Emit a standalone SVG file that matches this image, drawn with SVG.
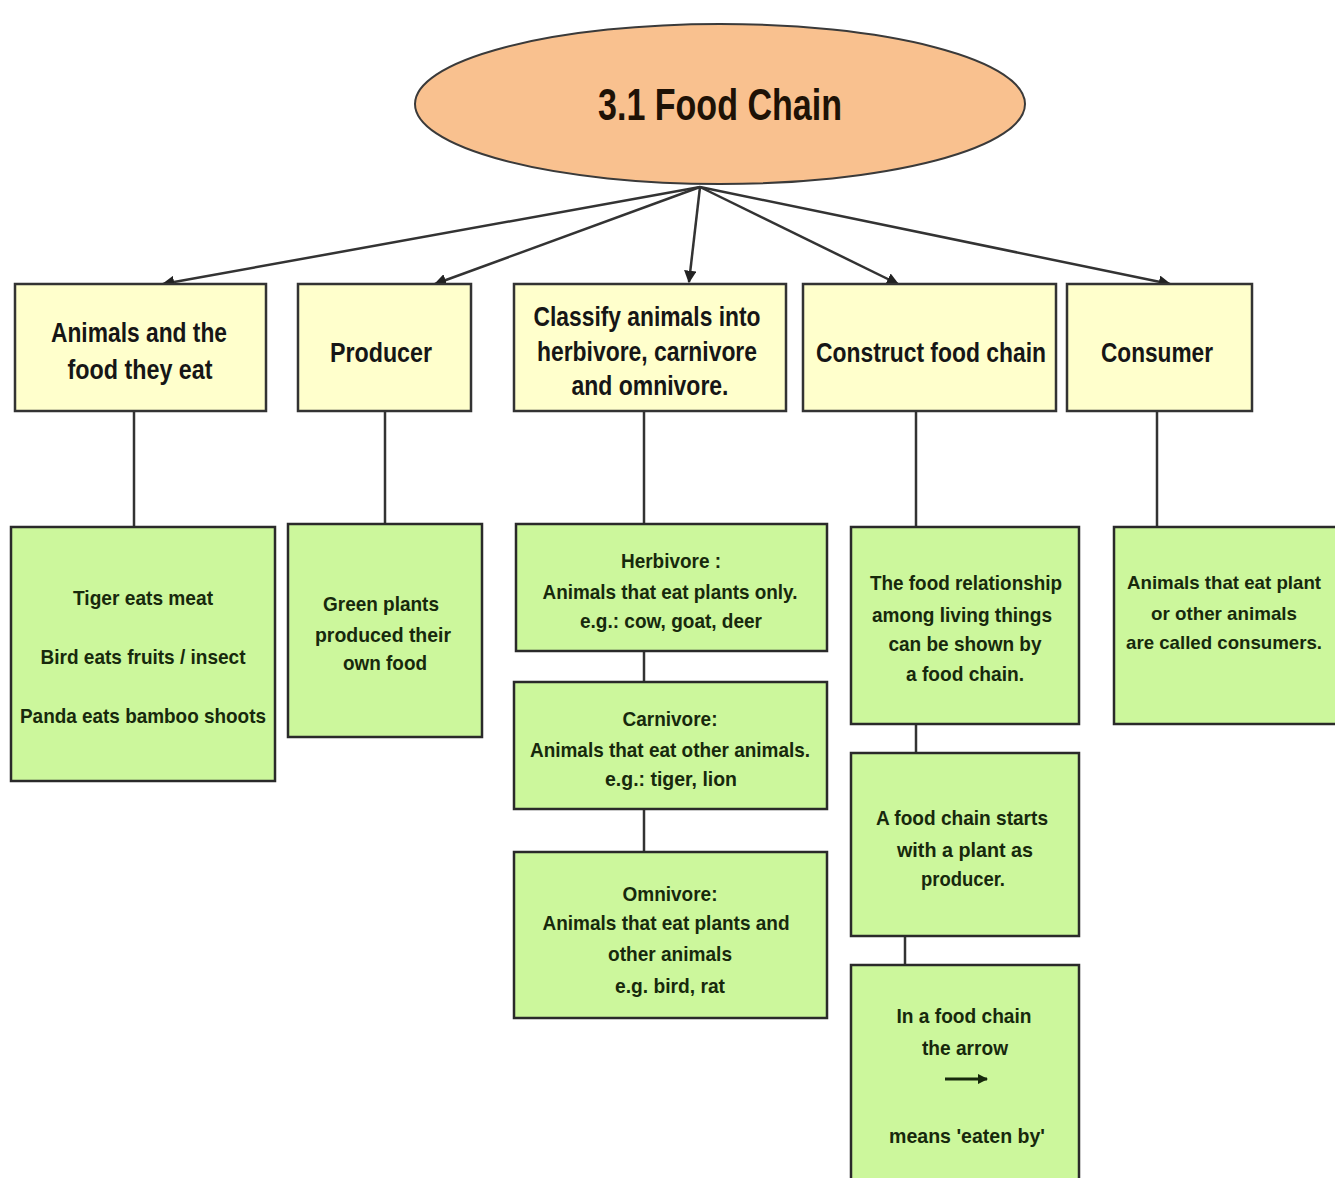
<svg xmlns="http://www.w3.org/2000/svg" width="1335" height="1178" viewBox="0 0 1335 1178">
<style>
.bg{fill:#ffffff}
.hdr{fill:#ffffcc;stroke:#333333;stroke-width:2.5}
.det{fill:#ccf79c;stroke:#2a2a2a;stroke-width:2.5}
.top{fill:#f9c18f;stroke:#3a3a3a;stroke-width:2}
.edge{stroke:#333333;stroke-width:2.5;fill:none}
.arr{stroke:#333333;stroke-width:2.5;fill:none;marker-end:url(#ah)}
text{font-family:"Liberation Sans",Arial,sans-serif;font-weight:bold;text-anchor:middle}
.t1{font-size:44px;fill:#1e1206}
.t2{font-size:27px;fill:#161616}
.t3{font-size:21px;fill:#17290c}
.t4{font-size:19px;fill:#17290c}
</style>
<defs>
<marker id="ah" viewBox="0 0 10 10" refX="9" refY="5" markerWidth="5" markerHeight="5" orient="auto" markerUnits="strokeWidth">
<path d="M0,0 L10,5 L0,10 z" fill="#222222"/>
</marker>
<marker id="ah2" viewBox="0 0 10 10" refX="9" refY="5" markerWidth="3.5" markerHeight="3.5" orient="auto" markerUnits="strokeWidth">
<path d="M0,0 L10,5 L0,10 z" fill="#17290c"/>
</marker>
</defs>
<rect class="bg" x="0" y="0" width="1335" height="1178"/>

<g id="connectors">
<line class="arr" x1="700" y1="187" x2="163" y2="284"/>
<line class="arr" x1="700" y1="187" x2="435" y2="284"/>
<line class="arr" x1="700" y1="187" x2="689" y2="282"/>
<line class="arr" x1="700" y1="187" x2="898" y2="284"/>
<line class="arr" x1="700" y1="187" x2="1170" y2="284"/>
<line class="edge" x1="134" y1="411" x2="134" y2="527"/>
<line class="edge" x1="385" y1="411" x2="385" y2="524"/>
<line class="edge" x1="644" y1="411" x2="644" y2="524"/>
<line class="edge" x1="916" y1="411" x2="916" y2="527"/>
<line class="edge" x1="1157" y1="411" x2="1157" y2="527"/>
<line class="edge" x1="644" y1="651" x2="644" y2="682"/>
<line class="edge" x1="644" y1="809" x2="644" y2="852"/>
<line class="edge" x1="916" y1="724" x2="916" y2="753"/>
<line class="edge" x1="905" y1="936" x2="905" y2="965"/>
</g>

<g id="n-title">
<ellipse class="top" cx="720" cy="104" rx="305" ry="80"/>
<text class="t1" x="720" y="120" textLength="244" lengthAdjust="spacingAndGlyphs">3.1 Food Chain</text>
</g>

<g id="n-animals">
<rect class="hdr" x="15" y="284" width="251" height="127"/>
<text class="t2" x="139" y="342" textLength="176" lengthAdjust="spacingAndGlyphs">Animals and the</text>
<text class="t2" x="140" y="379" textLength="145" lengthAdjust="spacingAndGlyphs">food they eat</text>
</g>

<g id="n-producer">
<rect class="hdr" x="298" y="284" width="173" height="127"/>
<text class="t2" x="381" y="362" textLength="102" lengthAdjust="spacingAndGlyphs">Producer</text>
</g>

<g id="n-classify">
<rect class="hdr" x="514" y="284" width="272" height="127"/>
<text class="t2" x="647" y="326" textLength="227" lengthAdjust="spacingAndGlyphs">Classify animals into</text>
<text class="t2" x="647" y="361" textLength="220" lengthAdjust="spacingAndGlyphs">herbivore, carnivore</text>
<text class="t2" x="650" y="395" textLength="157" lengthAdjust="spacingAndGlyphs">and omnivore.</text>
</g>

<g id="n-construct">
<rect class="hdr" x="803" y="284" width="253" height="127"/>
<text class="t2" x="931" y="362" textLength="230" lengthAdjust="spacingAndGlyphs">Construct food chain</text>
</g>

<g id="n-consumer">
<rect class="hdr" x="1067" y="284" width="185" height="127"/>
<text class="t2" x="1157" y="362" textLength="112" lengthAdjust="spacingAndGlyphs">Consumer</text>
</g>

<g id="n-examples">
<rect class="det" x="11" y="527" width="264" height="254"/>
<text class="t3" x="143" y="605" textLength="140" lengthAdjust="spacingAndGlyphs">Tiger eats meat</text>
<text class="t3" x="143" y="664" textLength="205" lengthAdjust="spacingAndGlyphs">Bird eats fruits / insect</text>
<text class="t3" x="143" y="723" textLength="246" lengthAdjust="spacingAndGlyphs">Panda eats bamboo shoots</text>
</g>

<g id="n-green">
<rect class="det" x="288" y="524" width="194" height="213"/>
<text class="t3" x="381" y="611" textLength="116" lengthAdjust="spacingAndGlyphs">Green plants</text>
<text class="t3" x="383" y="642" textLength="136" lengthAdjust="spacingAndGlyphs">produced their</text>
<text class="t3" x="385" y="670" textLength="84" lengthAdjust="spacingAndGlyphs">own food</text>
</g>

<g id="n-herbivore">
<rect class="det" x="516" y="524" width="311" height="127"/>
<text class="t3" x="671" y="568" textLength="100" lengthAdjust="spacingAndGlyphs">Herbivore :</text>
<text class="t3" x="670" y="599" textLength="255" lengthAdjust="spacingAndGlyphs">Animals that eat plants only.</text>
<text class="t3" x="671" y="628" textLength="182" lengthAdjust="spacingAndGlyphs">e.g.: cow, goat, deer</text>
</g>

<g id="n-carnivore">
<rect class="det" x="514" y="682" width="313" height="127"/>
<text class="t3" x="670" y="726" textLength="95" lengthAdjust="spacingAndGlyphs">Carnivore:</text>
<text class="t3" x="670" y="757" textLength="280" lengthAdjust="spacingAndGlyphs">Animals that eat other animals.</text>
<text class="t3" x="671" y="786" textLength="132" lengthAdjust="spacingAndGlyphs">e.g.: tiger, lion</text>
</g>

<g id="n-omnivore">
<rect class="det" x="514" y="852" width="313" height="166"/>
<text class="t3" x="670" y="901" textLength="95" lengthAdjust="spacingAndGlyphs">Omnivore:</text>
<text class="t3" x="666" y="930" textLength="247" lengthAdjust="spacingAndGlyphs">Animals that eat plants and</text>
<text class="t3" x="670" y="961" textLength="124" lengthAdjust="spacingAndGlyphs">other animals</text>
<text class="t3" x="670" y="993" textLength="110" lengthAdjust="spacingAndGlyphs">e.g. bird, rat</text>
</g>

<g id="n-relationship">
<rect class="det" x="851" y="527" width="228" height="197"/>
<text class="t3" x="966" y="590" textLength="192" lengthAdjust="spacingAndGlyphs">The food relationship</text>
<text class="t3" x="962" y="622" textLength="180" lengthAdjust="spacingAndGlyphs">among living things</text>
<text class="t3" x="965" y="651" textLength="153" lengthAdjust="spacingAndGlyphs">can be shown by</text>
<text class="t3" x="965" y="681" textLength="118" lengthAdjust="spacingAndGlyphs">a food chain.</text>
</g>

<g id="n-starts">
<rect class="det" x="851" y="753" width="228" height="183"/>
<text class="t3" x="962" y="825" textLength="172" lengthAdjust="spacingAndGlyphs">A food chain starts</text>
<text class="t3" x="965" y="857" textLength="136" lengthAdjust="spacingAndGlyphs">with a plant  as</text>
<text class="t3" x="963" y="886" textLength="84" lengthAdjust="spacingAndGlyphs">producer.</text>
</g>

<g id="n-arrow">
<rect class="det" x="851" y="965" width="228" height="220"/>
<text class="t3" x="964" y="1023" textLength="135" lengthAdjust="spacingAndGlyphs">In a food chain</text>
<text class="t3" x="965" y="1055" textLength="86" lengthAdjust="spacingAndGlyphs">the arrow</text>
<line x1="945" y1="1079" x2="987" y2="1079" stroke="#17290c" stroke-width="3" marker-end="url(#ah2)"/>
<text class="t3" x="967" y="1143" textLength="156" lengthAdjust="spacingAndGlyphs">means 'eaten by'</text>
</g>

<g id="n-consumers">
<rect class="det" x="1114" y="527" width="230" height="197"/>
<text class="t4" x="1224" y="589" textLength="194" lengthAdjust="spacingAndGlyphs">Animals that eat plant</text>
<text class="t4" x="1224" y="620" textLength="146" lengthAdjust="spacingAndGlyphs">or other animals</text>
<text class="t4" x="1224" y="649" textLength="196" lengthAdjust="spacingAndGlyphs">are called consumers.</text>
</g>
</svg>
